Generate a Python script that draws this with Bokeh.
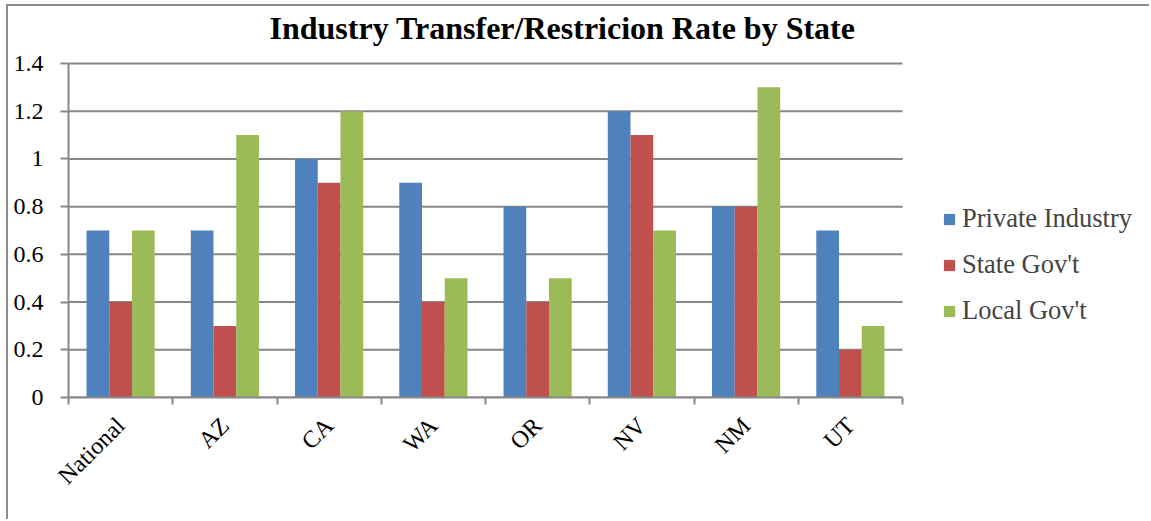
import numpy as np
from bokeh.plotting import figure
from bokeh.models import ColumnDataSource, FixedTicker, Range1d, Legend, LegendItem, Label
from bokeh.embed import file_html
from bokeh.resources import INLINE
from bokeh.transform import dodge

categories = ["National", "AZ", "CA", "WA", "OR", "NV", "NM", "UT"]
private_industry = [0.7, 0.7, 1.0, 0.9, 0.8, 1.2, 0.8, 0.7]
state_govt = [0.4, 0.3, 0.9, 0.4, 0.4, 1.1, 0.8, 0.2]
local_govt = [0.7, 1.1, 1.2, 0.5, 0.5, 0.7, 1.3, 0.3]
series_names = ["Private Industry", "State Gov't", "Local Gov't"]
series_colors = ["#4F81BD", "#C0504D", "#9BBB59"]
y_ticks = [0, 0.2, 0.4, 0.6, 0.8, 1.0, 1.2, 1.4]
title_text = "Industry Transfer/Restricion Rate by State"

GRAY = "#878787"
FONT = "Liberation Serif"

n = len(categories)
y_max = y_ticks[-1]
centers = [i + 0.5 for i in range(n)]
bounds = [float(i) for i in range(n + 1)]

# layout in pixels (canvas)
CANVAS_W, CANVAS_H = 1143, 515
LEFT, BOTTOM = 60, 124
PLOT_W, PLOT_H = 834, 334          # size of the actual chart area
FRAME_W = CANVAS_W - LEFT          # frame extends to the right edge (legend lives there)
FRAME_H = CANVAS_H - BOTTOM        # and to the top edge (title lives there)
x_end = n * FRAME_W / PLOT_W
y_end = y_max * FRAME_H / PLOT_H

source = ColumnDataSource(dict(
    x=centers,
    private=private_industry,
    state=state_govt,
    local=local_govt,
))

p = figure(
    width=CANVAS_W, height=CANVAS_H,
    x_range=Range1d(0, x_end), y_range=Range1d(0, y_end),
    output_backend="svg", toolbar_location=None,
    min_border_left=LEFT, min_border_right=0, min_border_top=0, min_border_bottom=BOTTOM,
)
p.styles = {"border-left": "2px solid #8c8c8c", "border-top": "2px solid #8c8c8c",
            "margin-left": "6px", "margin-top": "4px"}
p.outline_line_color = None
p.background_fill_color = "white"
p.border_fill_color = "white"

# title (as a label in the space above the chart area)
px_x = n / PLOT_W
px_y = y_max / PLOT_H
title = Label(
    x=201 * px_x, y=(FRAME_H - 21) * px_y, text=title_text,
    text_font=FONT, text_font_style="bold", text_font_size="32px",
    text_align="left", text_baseline="alphabetic", text_color="black",
)
p.add_layout(title)

# horizontal grid lines, limited to the category area
p.xgrid.visible = False
p.ygrid.visible = False
p.segment(x0=0, x1=n, y0=y_ticks, y1=y_ticks, line_color=GRAY, line_width=2)

w = 0.218
renderers = []
for col, off, color in zip(["private", "state", "local"], [-w, 0, w], series_colors):
    r = p.vbar(x=dodge("x", off, range=p.x_range), top=col, width=w, bottom=0,
               source=source, fill_color=color, line_color=None)
    renderers.append(r)

# y axis
ya = p.yaxis[0]
ya.bounds = (0, y_max)
ya.ticker = FixedTicker(ticks=y_ticks)
ya.major_label_overrides = {0: "0", 1: "1"}
ya.axis_line_color = GRAY
ya.axis_line_width = 2
ya.major_tick_line_color = GRAY
ya.major_tick_line_width = 2
ya.major_tick_out = 8
ya.major_tick_in = 0
ya.minor_tick_line_color = None
ya.major_label_text_font = FONT
ya.major_label_text_font_size = "24px"
ya.major_label_text_color = "black"
ya.major_label_standoff = 17

# x axis
xa = p.xaxis[0]
xa.bounds = (0, n)
xa.ticker = FixedTicker(ticks=centers, minor_ticks=bounds)
xa.major_label_overrides = {c: lab for c, lab in zip(centers, categories)}
xa.major_label_orientation = np.pi / 4
xa.axis_line_color = GRAY
xa.axis_line_width = 2
xa.major_tick_line_color = None
xa.major_tick_out = 0
xa.major_tick_in = 0
xa.minor_tick_line_color = GRAY
xa.minor_tick_line_width = 2
xa.minor_tick_out = 7
xa.minor_tick_in = 0
xa.major_label_text_font = FONT
xa.major_label_text_font_size = "24px"
xa.major_label_text_color = "black"
xa.major_label_standoff = 17

legend = Legend(
    items=[LegendItem(label=s, renderers=[r]) for s, r in zip(series_names, renderers)],
    location=(PLOT_W + 40, 71),
    border_line_color=None, background_fill_alpha=0,
    padding=0, margin=0,
    glyph_width=14, glyph_height=14, label_standoff=6,
    label_text_font=FONT, label_text_font_size="26.5px",
    label_height=21, spacing=15,
)
p.add_layout(legend, "center")

open("out.html", "w").write(file_html(p, INLINE))
